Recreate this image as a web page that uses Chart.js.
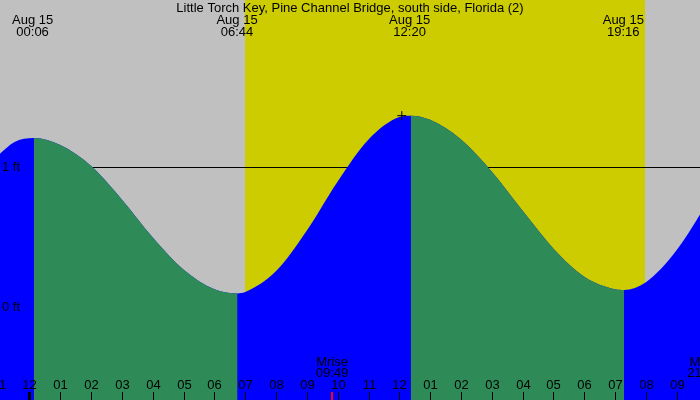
<!DOCTYPE html>
<html>
<head>
<meta charset="utf-8">
<script src="https://cdn.jsdelivr.net/npm/chart.js@4"></script>
<style>
html, body { margin: 0; padding: 0; background: #c0c0c0; overflow: hidden; }
canvas { display: block; }
</style>
</head>
<body>
<canvas id="tide" width="700" height="400"></canvas>
<script>
const title = 'Little Torch Key, Pine Channel Bridge, south side, Florida (2)';

// hours after midnight Aug 15 (negative = evening of Aug 14), heights in ft
const tideHours   = [-1, -0.5, 0.14, 1, 2, 3, 4, 5, 6, 6.75, 7, 8, 9, 10, 11, 12, 12.37, 13, 14, 15, 16, 17, 18, 19, 19.29, 20, 21, 22];
const tideHeights = [1.09, 1.18, 1.21, 1.16, 1.01, 0.77, 0.50, 0.27, 0.13, 0.10, 0.11, 0.26, 0.55, 0.90, 1.20, 1.36, 1.37, 1.34, 1.20, 0.97, 0.69, 0.42, 0.22, 0.13, 0.125, 0.18, 0.41, 0.75];

// high / low tide labels along the top
const extremeHours = [0.1, 6.733, 12.333, 19.267];
const extremeDates = ['Aug 15', 'Aug 15', 'Aug 15', 'Aug 15'];
const extremeTimes = ['00:06', '06:44', '12:20', '19:16'];

// daylight
const sunriseHour = 6.983;  // 06:59
const sunsetHour = 19.967;  // 19:58

// hour ticks on the bottom edge
const tickHours  = [-1, 0, 1, 2, 3, 4, 5, 6, 7, 8, 9, 10, 11, 12, 13, 14, 15, 16, 17, 18, 19, 20, 21, 22];
const tickLabels = ['11', '12', '01', '02', '03', '04', '05', '06', '07', '08', '09', '10', '11', '12', '01', '02', '03', '04', '05', '06', '07', '08', '09', '10'];

// moon events
const moonHours = [9.817, 21.87];
const moonNames = ['Mrise', 'Mset'];
const moonTimes = ['09:49', '21:52'];

// level lines / labels
const levelFeet = [1, 0];
const levelLabels = ['1 ft', '0 ft'];

// the small cross near the noon high
const markHour = 12.08;
const markHeight = 1.37;

const BLUE = '#0000ff';
const GREEN = '#2e8b57';
const FONT = '13px "Liberation Sans", Arial, sans-serif';

const tidePoints = () => tideHours.map((h, i) => ({ x: h, y: tideHeights[i] }));
const falling = c => c.p1.parsed.y < c.p0.parsed.y;

const tidePainter = {
  id: 'tidePainter',
  beforeDatasetsDraw(chart) {
    const { ctx, chartArea: a, scales: { x, y } } = chart;
    ctx.save();
    ctx.fillStyle = '#c0c0c0';
    ctx.fillRect(a.left, a.top, a.right - a.left, a.bottom - a.top);
    const x0 = Math.round(x.getPixelForValue(sunriseHour));
    const x1 = Math.round(x.getPixelForValue(sunsetHour));
    ctx.fillStyle = '#cccc00';
    ctx.fillRect(x0, a.top, x1 - x0, a.bottom - a.top);

    const yl = Math.round(y.getPixelForValue(levelFeet[0])) + 0.5;
    ctx.strokeStyle = '#000';
    ctx.lineWidth = 1;
    ctx.beginPath();
    ctx.moveTo(a.left, yl);
    ctx.lineTo(a.right, yl);
    ctx.stroke();
    ctx.restore();
  },
  afterDatasetsDraw(chart) {
    const { ctx, chartArea: a, scales: { x, y } } = chart;
    ctx.save();
    ctx.font = FONT;
    ctx.fillStyle = '#000';
    ctx.textBaseline = 'middle';

    ctx.textAlign = 'center';
    ctx.fillText(title, (a.left + a.right) / 2, 8);

    extremeHours.forEach((h, i) => {
      const px = x.getPixelForValue(h);
      ctx.fillText(extremeDates[i], px, 20);
      ctx.fillText(extremeTimes[i], px, 32);
    });

    // hour ticks, midnight drawn heavier
    tickHours.forEach((h, i) => {
      const px = Math.round(x.getPixelForValue(h));
      const midnight = h % 24 === 0;
      ctx.fillStyle = '#000';
      ctx.fillRect(midnight ? px - 1 : px, a.bottom - 8, midnight ? 3 : 1, 8);
      ctx.fillText(tickLabels[i], px + 0.5, a.bottom - 15);
    });

    moonHours.forEach((h, i) => {
      const px = x.getPixelForValue(h);
      ctx.fillStyle = '#ff0000';
      ctx.fillRect(Math.round(px) - 1, a.bottom - 8, 2, 8);
      ctx.fillStyle = '#000';
      ctx.fillText(moonNames[i], px, a.bottom - 38);
      ctx.fillText(moonTimes[i], px, a.bottom - 27);
    });

    ctx.textAlign = 'left';
    levelFeet.forEach((f, i) => {
      ctx.fillText(levelLabels[i], 2, y.getPixelForValue(f));
    });
    ctx.restore();
  }
};

new Chart(document.getElementById('tide'), {
  type: 'line',
  data: {
    datasets: [
      {
        type: 'scatter',
        data: [{ x: markHour, y: markHeight }],
        pointStyle: 'cross',
        pointRadius: 4.5,
        borderColor: '#000',
        borderWidth: 1,
        order: 0
      },
      {
        // falling tide, painted over the blue
        data: tidePoints(),
        fill: 'start',
        backgroundColor: GREEN,
        borderWidth: 0,
        borderColor: 'rgba(0,0,0,0)',
        pointRadius: 0,
        cubicInterpolationMode: 'monotone',
        segment: {
          backgroundColor: c => (falling(c) ? GREEN : 'rgba(0,0,0,0)')
        },
        order: 1
      },
      {
        // rising tide (whole curve)
        data: tidePoints(),
        fill: 'start',
        backgroundColor: BLUE,
        borderWidth: 0,
        borderColor: 'rgba(0,0,0,0)',
        pointRadius: 0,
        cubicInterpolationMode: 'monotone',
        order: 2
      }
    ]
  },
  options: {
    responsive: false,
    animation: false,
    layout: { padding: 0, autoPadding: false },
    plugins: { legend: { display: false }, tooltip: { enabled: false }, title: { display: false } },
    scales: {
      x: { type: 'linear', display: false, min: -0.957, max: 21.755 },
      y: { type: 'linear', display: false, min: -0.661, max: 2.196 }
    }
  },
  plugins: [tidePainter]
});
</script>
</body>
</html>
